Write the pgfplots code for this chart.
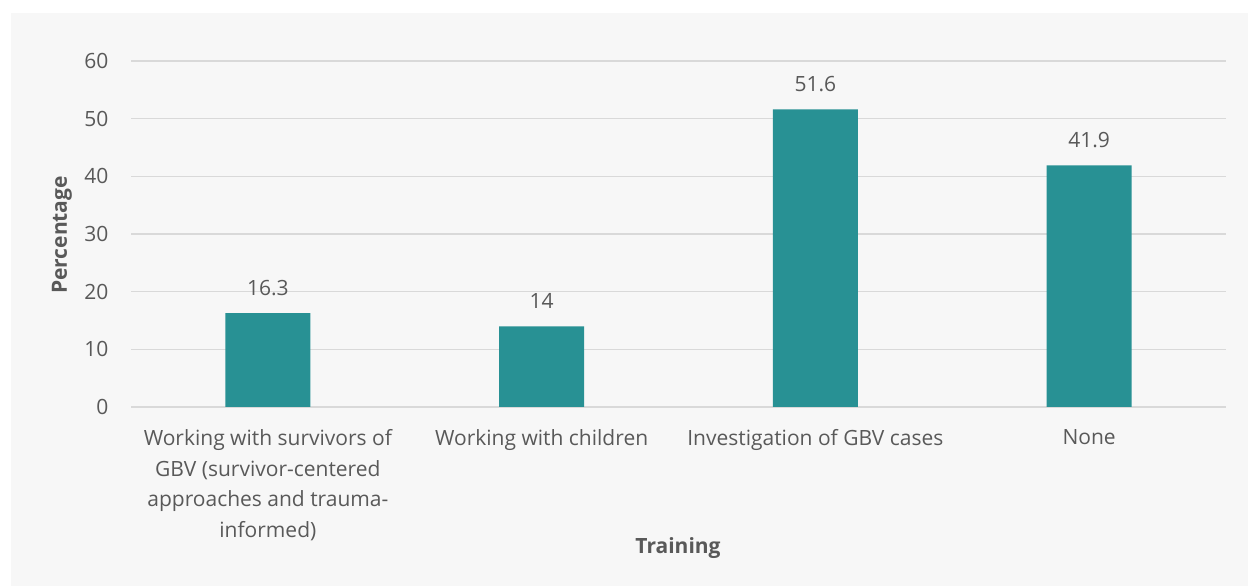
\documentclass[border=0pt]{standalone}
\usepackage{pgfplots}
\pgfplotsset{compat=1.18}
\usepackage{fontspec}
\setmainfont{Open Sans}
\definecolor{bg}{HTML}{F7F7F7}
\definecolor{txt}{HTML}{595959}
\definecolor{grd}{HTML}{D9D9D9}
\definecolor{bar}{RGB}{40,145,148}
\begin{document}
\begin{tikzpicture}[x=1pt,y=1pt]
\fill[white] (0,0) rectangle (1248,586);
\fill[bg] (11,0) rectangle (1248,573);
\begin{axis}[
  at={(131pt,179pt)}, anchor=south west,
  scale only axis, width=1095pt, height=346pt,
  xmin=-0.5, xmax=3.5, ymin=0, ymax=60,
  ytick={0,10,...,60},
  xtick={0,1,2,3},
  xticklabels={Working with survivors of\\GBV (survivor-centered\\approaches and trauma-\\informed),Working with children,Investigation of GBV cases,None},
  xticklabel style={align=center, font=\fontsize{21}{30.7}\selectfont, text=txt, anchor=north, yshift=-19pt},
  yticklabel style={font=\fontsize{21}{30}\selectfont, text=txt, xshift=-19pt},
  /pgf/number format/assume math mode=true,
  axis line style={draw=none},
  major tick length=0pt,
  ymajorgrids, grid style={grd, line width=1.4pt},
  ybar, bar width=85pt,
  nodes near coords,
  nodes near coords style={font=\fontsize{21}{30}\selectfont, text=txt, anchor=center, yshift=25pt},
  clip=false,
]
\addplot[fill=bar, draw=none] coordinates {(0,16.3) (1,14) (2,51.6) (3,41.9)};
\end{axis}
\node[rotate=90, font=\bfseries\fontsize{21}{30}\selectfont, text=txt] at (62,351) {Percentage};
\node[font=\bfseries\fontsize{21}{30}\selectfont, text=txt] at (678,38) {Training};
\end{tikzpicture}
\end{document}
